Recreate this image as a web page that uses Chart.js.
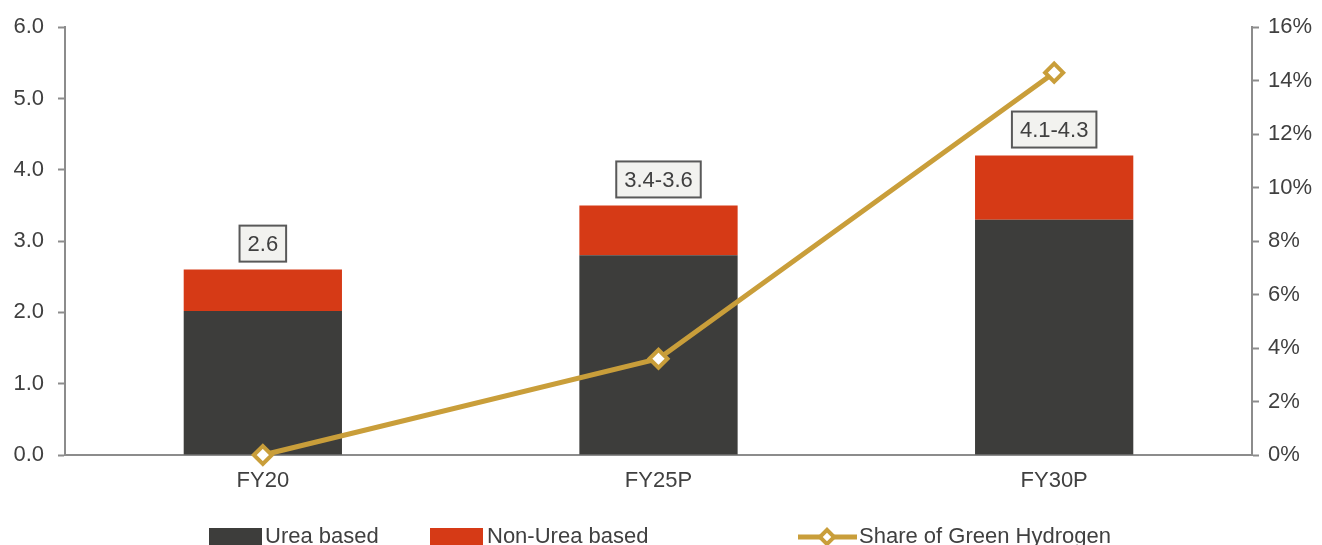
<!DOCTYPE html>
<html>
<head>
	<title>Green hydrogen share</title>
	<script src="https://cdn.jsdelivr.net/npm/chart.js@4.4.1/dist/chart.umd.min.js"></script>
	<style>
		html, body { margin: 0; padding: 0; background: #ffffff; }
		#wrap { position: relative; width: 1322px; height: 545px; overflow: hidden; }
	</style>
</head>
<body>
	<div id="wrap">
		<canvas id="mixed-chart" width="1322" height="545"></canvas>
	</div>
	<script>
		var categories = ['FY20', 'FY25P', 'FY30P'];
		var ureaBased = [2.02, 2.8, 3.3];
		var nonUreaBased = [0.58, 0.7, 0.9];
		var greenShare = [0, 0.036, 0.143];
		var totalLabels = ['2.6', '3.4-3.6', '4.1-4.3'];

		var FONT = '"Liberation Sans", Arial, sans-serif';
		var FS = 22;
		var TXT = '#404040';
		var AXIS = '#8c8c8c';
		var DARK = '#3d3d3b';
		var RED = '#d63a16';
		var GOLD = '#c99e3a';

		// boxed total labels above the stacks
		var boxLabels = {
			id: 'boxLabels',
			afterDatasetsDraw: function (chart) {
				var ctx = chart.ctx;
				var meta = chart.getDatasetMeta(1);
				ctx.save();
				ctx.font = FS + 'px ' + FONT;
				ctx.textAlign = 'center';
				ctx.textBaseline = 'middle';
				meta.data.forEach(function (bar, i) {
					var t = totalLabels[i];
					var w = ctx.measureText(t).width + 16;
					var h = 36;
					var x = bar.x - w / 2;
					var y = bar.y - 8 - h;
					ctx.fillStyle = '#f2f2ef';
					ctx.fillRect(x, y, w, h);
					ctx.strokeStyle = '#595959';
					ctx.lineWidth = 2;
					ctx.strokeRect(x, y, w, h);
					ctx.fillStyle = TXT;
					ctx.fillText(t, bar.x, y + h / 2 + 1);
				});
				ctx.restore();
			}
		};

		// legend drawn by hand, the gaps are uneven in the original
		var bottomLegend = {
			id: 'bottomLegend',
			afterDraw: function (chart) {
				var ctx = chart.ctx;
				var cy = 537;
				ctx.save();
				ctx.font = FS + 'px ' + FONT;
				ctx.textBaseline = 'middle';
				ctx.fillStyle = DARK;
				ctx.fillRect(209, cy - 9, 53, 18);
				ctx.fillStyle = RED;
				ctx.fillRect(430, cy - 9, 53, 18);
				ctx.strokeStyle = GOLD;
				ctx.lineWidth = 5;
				ctx.beginPath();
				ctx.moveTo(798, cy);
				ctx.lineTo(857, cy);
				ctx.stroke();
				ctx.save();
				ctx.translate(827, cy);
				ctx.rotate(Math.PI / 4);
				ctx.fillStyle = '#ffffff';
				ctx.lineWidth = 4;
				ctx.fillRect(-5, -5, 10, 10);
				ctx.strokeRect(-5, -5, 10, 10);
				ctx.restore();
				ctx.fillStyle = TXT;
				ctx.fillText('Urea based', 265, cy);
				ctx.fillText('Non-Urea based', 487, cy);
				ctx.fillText('Share of Green Hydrogen', 859, cy);
				ctx.restore();
			}
		};

		var ctx = document.getElementById('mixed-chart').getContext('2d');
		var chart = new Chart(ctx, {
			type: 'bar',
			data: {
				labels: categories,
				datasets: [
				{
					label: 'Urea based',
					data: ureaBased,
					backgroundColor: DARK,
					stack: 's',
					yAxisID: 'y',
					order: 2,
					barPercentage: 0.8,
					categoryPercentage: 0.5
				},
				{
					label: 'Non-Urea based',
					data: nonUreaBased,
					backgroundColor: RED,
					stack: 's',
					yAxisID: 'y',
					order: 2,
					barPercentage: 0.8,
					categoryPercentage: 0.5
				},
				{
					label: 'Share of Green Hydrogen',
					type: 'line',
					data: greenShare,
					yAxisID: 'y1',
					borderColor: GOLD,
					borderWidth: 5,
					pointStyle: 'rectRot',
					pointRadius: 9,
					pointBorderWidth: 4,
					pointBackgroundColor: '#ffffff',
					pointBorderColor: GOLD,
					fill: false,
					clip: false,
					order: 0
				}]
			},
			options: {
				responsive: false,
				animation: false,
				layout: { padding: { top: 21, left: 0, right: 0, bottom: 0 } },
				plugins: {
					legend: { display: false },
					tooltip: { enabled: false }
				},
				scales: {
					x: {
						stacked: true,
						grid: { display: false, drawTicks: false },
						border: { color: AXIS, width: 2 },
						ticks: { color: TXT, font: { family: FONT, size: FS }, padding: 13 },
						afterFit: function (s) { s.height = 90; }
					},
					y: {
						stacked: true,
						position: 'left',
						min: 0, max: 6,
						grid: { display: true, drawOnChartArea: false, drawTicks: true, tickLength: 7, color: AXIS, tickWidth: 2 },
						border: { color: AXIS, width: 2 },
						ticks: {
							stepSize: 1, color: TXT, padding: 14,
							font: { family: FONT, size: FS },
							callback: function (v) { return v.toFixed(1); }
						},
						afterFit: function (s) { s.width = 65; }
					},
					y1: {
						position: 'right',
						min: 0, max: 0.16,
						grid: { display: true, drawOnChartArea: false, drawTicks: true, tickLength: 7, color: AXIS, tickWidth: 2 },
						border: { color: AXIS, width: 2 },
						ticks: {
							stepSize: 0.02, color: TXT, padding: 9,
							font: { family: FONT, size: FS },
							callback: function (v) { return Math.round(v * 100) + '%'; }
						},
						afterFit: function (s) { s.width = 70; }
					}
				}
			},
			plugins: [boxLabels, bottomLegend]
		});
	</script>
</body>
</html>
